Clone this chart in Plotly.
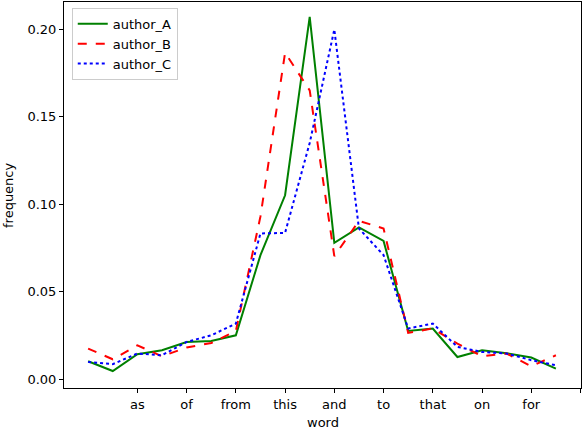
import plotly.graph_objects as go

# word positions (index of each word in the list) and the labelled ticks
positions = list(range(20))
tick_positions = [2, 4, 6, 8, 10, 12, 14, 16, 18, 20]
tick_labels = ["as", "of", "from", "this", "and", "to", "that", "on", "for", ""]

author_A = [0.0103, 0.0047, 0.0143, 0.0166, 0.0213, 0.0219, 0.0251, 0.0709, 0.1051, 0.2070,
            0.0779, 0.0867, 0.0790, 0.0276, 0.0290, 0.0127, 0.0166, 0.0149, 0.0124, 0.0061]
author_B = [0.0175, 0.0114, 0.0194, 0.0131, 0.0181, 0.0207, 0.0275, 0.0930, 0.1865, 0.1650,
            0.0703, 0.0905, 0.0861, 0.0265, 0.0290, 0.0204, 0.0131, 0.0147, 0.0074, 0.0137]
author_C = [0.0099, 0.0086, 0.0147, 0.0137, 0.0213, 0.0251, 0.0318, 0.0833, 0.0836, 0.1350,
            0.1998, 0.0861, 0.0709, 0.0290, 0.0318, 0.0185, 0.0156, 0.0147, 0.0109, 0.0080]

fig = go.Figure()
fig.add_trace(go.Scatter(x=positions, y=author_A, mode="lines", name="author_A",
                         line=dict(color="green", width=2)))
fig.add_trace(go.Scatter(x=positions, y=author_B, mode="lines", name="author_B",
                         line=dict(color="red", width=2, dash="dash")))
fig.add_trace(go.Scatter(x=positions, y=author_C, mode="lines", name="author_C",
                         line=dict(color="blue", width=2, dash="dot")))

axis_style = dict(showgrid=False, zeroline=False, showline=True, linecolor="black",
                  linewidth=1, mirror=True, ticks="outside", ticklen=4, tickcolor="black",
                  tickfont=dict(size=13, color="black"), automargin=False)

fig.update_layout(
    width=588, height=430,
    margin=dict(l=64, r=7, t=2, b=42),
    paper_bgcolor="white", plot_bgcolor="white",
    font=dict(family="DejaVu Sans", size=13, color="black"),
    xaxis=dict(range=[-0.98, 20.02], tickmode="array", tickvals=tick_positions,
               ticktext=tick_labels, **axis_style),
    yaxis=dict(range=[-0.005, 0.2155], tickmode="array",
               tickvals=[0, 0.05, 0.10, 0.15, 0.20], tickformat=".2f", **axis_style),
    legend=dict(x=0.015, y=0.985, xanchor="left", yanchor="top",
                bgcolor="rgba(255,255,255,0.8)", bordercolor="#cccccc", borderwidth=1,
                font=dict(size=13), tracegroupgap=0),
    showlegend=True,
)

# axis titles placed like the original
fig.add_annotation(text="word", xref="paper", yref="paper", x=0.5, y=0,
                   yshift=-34, showarrow=False, yanchor="middle", font=dict(size=13))
fig.add_annotation(text="frequency", xref="paper", yref="paper", x=0, y=0.5,
                   xshift=-56, textangle=-90, showarrow=False, xanchor="center",
                   font=dict(size=13))

# the page body has a default margin; drop it so the figure sits at the corner
fig.write_html("out.html", config={"displayModeBar": False},
               post_script="document.body.style.margin='0px';")
